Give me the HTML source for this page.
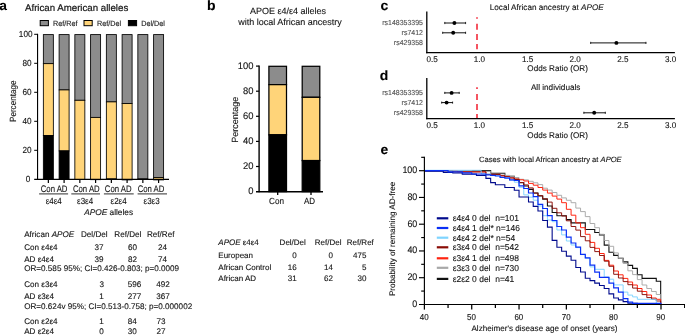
<!DOCTYPE html>
<html lang="en">
<head>
<meta charset="utf-8">
<title>APOE figure</title>
<style>
html, body { margin: 0; padding: 0; background: #ffffff; }
body { width: 685px; height: 335px; overflow: hidden; }
svg { display: block; font-family: "Liberation Sans", sans-serif; }
svg text { font-family: "Liberation Sans", sans-serif; stroke-width: 0.12px; paint-order: stroke fill; text-rendering: geometricPrecision; }
</style>
</head>
<body>
<svg width="685" height="335" viewBox="0 0 685 335" role="img" aria-label="APOE deletion allele figure, panels a to e">
<rect x="0" y="0" width="685" height="335" fill="#ffffff"/>
<g id="panel-a">
<text transform="translate(-0.8,10.3) scale(1.03,1)" font-size="13.4" font-weight="bold" fill="#000" stroke="#000" xml:space="preserve">a</text>
<text transform="translate(25,10.6)" font-size="9.68" style="stroke-width:0.2px" fill="#141414" stroke="#141414" xml:space="preserve">African American alleles</text>
<rect x="40.20" y="20.50" width="8.20" height="5.20" fill="#8c8c8c" stroke="#000" stroke-width="1.0"/>
<text transform="translate(53,26) scale(0.95,1)" font-size="7.6" style="stroke-width:0.14px" fill="#1c1c1c" stroke="#1c1c1c" xml:space="preserve">Ref/Ref</text>
<rect x="84.00" y="20.50" width="8.20" height="5.20" fill="#ffd479" stroke="#000" stroke-width="1.0"/>
<text transform="translate(97,26) scale(0.95,1)" font-size="7.6" style="stroke-width:0.14px" fill="#1c1c1c" stroke="#1c1c1c" xml:space="preserve">Ref/Del</text>
<rect x="128.40" y="20.50" width="8.20" height="5.20" fill="#000000" stroke="#000" stroke-width="1.0"/>
<text transform="translate(141.2,26) scale(0.95,1)" font-size="7.6" style="stroke-width:0.14px" fill="#1c1c1c" stroke="#1c1c1c" xml:space="preserve">Del/Del</text>
<rect x="43.35" y="34.60" width="10.00" height="29.06" fill="#8c8c8c" stroke="#000" stroke-width="0.85"/>
<rect x="43.35" y="63.66" width="10.00" height="71.90" fill="#ffd479" stroke="#000" stroke-width="0.85"/>
<rect x="43.35" y="135.56" width="10.00" height="43.74" fill="#000000" stroke="#000" stroke-width="0.85"/>
<rect x="59.10" y="34.60" width="10.00" height="55.33" fill="#8c8c8c" stroke="#000" stroke-width="0.85"/>
<rect x="59.10" y="89.93" width="10.00" height="60.97" fill="#ffd479" stroke="#000" stroke-width="0.85"/>
<rect x="59.10" y="150.90" width="10.00" height="28.40" fill="#000000" stroke="#000" stroke-width="0.85"/>
<rect x="74.85" y="34.60" width="10.00" height="65.69" fill="#8c8c8c" stroke="#000" stroke-width="0.85"/>
<rect x="74.85" y="100.29" width="10.00" height="79.21" fill="#ffd479" stroke="#000" stroke-width="0.85"/>
<rect x="74.85" y="179.50" width="10.00" height="-0.20" fill="#000000" stroke="#000" stroke-width="0.85"/>
<rect x="90.60" y="34.60" width="10.00" height="82.80" fill="#8c8c8c" stroke="#000" stroke-width="0.85"/>
<rect x="90.60" y="117.40" width="10.00" height="62.27" fill="#ffd479" stroke="#000" stroke-width="0.85"/>
<rect x="90.60" y="179.68" width="10.00" height="-0.38" fill="#000000" stroke="#000" stroke-width="0.85"/>
<rect x="106.35" y="34.60" width="10.00" height="67.29" fill="#8c8c8c" stroke="#000" stroke-width="0.85"/>
<rect x="106.35" y="101.89" width="10.00" height="77.09" fill="#ffd479" stroke="#000" stroke-width="0.85"/>
<rect x="106.35" y="178.98" width="10.00" height="0.32" fill="#000000" stroke="#000" stroke-width="0.85"/>
<rect x="122.10" y="34.60" width="10.00" height="68.98" fill="#8c8c8c" stroke="#000" stroke-width="0.85"/>
<rect x="122.10" y="103.58" width="10.00" height="76.32" fill="#ffd479" stroke="#000" stroke-width="0.85"/>
<rect x="137.85" y="34.60" width="10.00" height="144.43" fill="#8c8c8c" stroke="#000" stroke-width="0.85"/>
<rect x="137.85" y="179.03" width="10.00" height="0.44" fill="#ffd479" stroke="#000" stroke-width="0.85"/>
<rect x="137.85" y="179.47" width="10.00" height="-0.16" fill="#000000" stroke="#000" stroke-width="0.85"/>
<rect x="153.60" y="34.60" width="10.00" height="142.98" fill="#8c8c8c" stroke="#000" stroke-width="0.85"/>
<rect x="153.60" y="177.58" width="10.00" height="2.32" fill="#ffd479" stroke="#000" stroke-width="0.85"/>
<line x1="37.55" y1="33.80" x2="37.55" y2="179.85" stroke="#000" stroke-width="1.15"/>
<line x1="34.20" y1="179.30" x2="169.00" y2="179.30" stroke="#000" stroke-width="1.15"/>
<text transform="translate(30.3,182.4) scale(0.93,1)" font-size="8.8" text-anchor="end" fill="#141414" stroke="#141414" xml:space="preserve">0</text>
<line x1="34.20" y1="150.30" x2="37.55" y2="150.30" stroke="#000" stroke-width="1"/>
<text transform="translate(31.5,153.4) scale(0.93,1)" font-size="8.8" text-anchor="end" fill="#141414" stroke="#141414" xml:space="preserve">20</text>
<line x1="34.20" y1="121.30" x2="37.55" y2="121.30" stroke="#000" stroke-width="1"/>
<text transform="translate(31.5,124.4) scale(0.93,1)" font-size="8.8" text-anchor="end" fill="#141414" stroke="#141414" xml:space="preserve">40</text>
<line x1="34.20" y1="92.30" x2="37.55" y2="92.30" stroke="#000" stroke-width="1"/>
<text transform="translate(31.5,95.4) scale(0.93,1)" font-size="8.8" text-anchor="end" fill="#141414" stroke="#141414" xml:space="preserve">60</text>
<line x1="34.20" y1="63.30" x2="37.55" y2="63.30" stroke="#000" stroke-width="1"/>
<text transform="translate(31.5,66.4) scale(0.93,1)" font-size="8.8" text-anchor="end" fill="#141414" stroke="#141414" xml:space="preserve">80</text>
<line x1="34.20" y1="34.30" x2="37.55" y2="34.30" stroke="#000" stroke-width="1"/>
<text transform="translate(32.5,37.40000000000001) scale(0.93,1)" font-size="8.8" text-anchor="end" fill="#141414" stroke="#141414" xml:space="preserve">100</text>
<line x1="48.35" y1="179.30" x2="48.35" y2="182.90" stroke="#000" stroke-width="1.2"/>
<line x1="64.10" y1="179.30" x2="64.10" y2="182.90" stroke="#000" stroke-width="1.2"/>
<line x1="79.85" y1="179.30" x2="79.85" y2="182.90" stroke="#000" stroke-width="1.2"/>
<line x1="95.60" y1="179.30" x2="95.60" y2="182.90" stroke="#000" stroke-width="1.2"/>
<line x1="111.35" y1="179.30" x2="111.35" y2="182.90" stroke="#000" stroke-width="1.2"/>
<line x1="127.10" y1="179.30" x2="127.10" y2="182.90" stroke="#000" stroke-width="1.2"/>
<line x1="142.85" y1="179.30" x2="142.85" y2="182.90" stroke="#000" stroke-width="1.2"/>
<line x1="158.60" y1="179.30" x2="158.60" y2="182.90" stroke="#000" stroke-width="1.2"/>
<text transform="translate(54.1,191.9) scale(0.815,1)" font-size="9.5" text-anchor="middle" fill="#141414" stroke="#141414" xml:space="preserve">Con AD</text>
<line x1="39.10" y1="193.85" x2="68.10" y2="193.85" stroke="#747474" stroke-width="1.5"/>
<text transform="translate(53.7,203.5) scale(0.9,1)" font-size="8.9" text-anchor="middle" fill="#141414" stroke="#141414" xml:space="preserve">ε4ε4</text>
<text transform="translate(86.3,191.9) scale(0.815,1)" font-size="9.5" text-anchor="middle" fill="#141414" stroke="#141414" xml:space="preserve">Con AD</text>
<line x1="71.30" y1="193.85" x2="100.00" y2="193.85" stroke="#747474" stroke-width="1.5"/>
<text transform="translate(85.1,203.5) scale(0.9,1)" font-size="8.9" text-anchor="middle" fill="#141414" stroke="#141414" xml:space="preserve">ε3ε4</text>
<text transform="translate(118.2,191.9) scale(0.815,1)" font-size="9.5" text-anchor="middle" fill="#141414" stroke="#141414" xml:space="preserve">Con AD</text>
<line x1="103.90" y1="193.85" x2="133.70" y2="193.85" stroke="#747474" stroke-width="1.5"/>
<text transform="translate(118.6,203.5) scale(0.9,1)" font-size="8.9" text-anchor="middle" fill="#141414" stroke="#141414" xml:space="preserve">ε2ε4</text>
<text transform="translate(151.0,191.9) scale(0.815,1)" font-size="9.5" text-anchor="middle" fill="#141414" stroke="#141414" xml:space="preserve">Con AD</text>
<line x1="137.60" y1="193.85" x2="167.00" y2="193.85" stroke="#747474" stroke-width="1.5"/>
<text transform="translate(151.6,203.5) scale(0.9,1)" font-size="8.9" text-anchor="middle" fill="#141414" stroke="#141414" xml:space="preserve">ε3ε3</text>
<text transform="translate(84.2,215.2)" font-size="8.3" fill="#141414" stroke="#141414" xml:space="preserve"><tspan font-style="italic">APOE</tspan> alleles</text>
<text transform="translate(15.9,101.3) rotate(-90) scale(0.9,1)" font-size="9.0" text-anchor="middle" fill="#141414" stroke="#141414" xml:space="preserve">Percentage</text>
<text transform="translate(24.2,237.4)" font-size="8.12" fill="#141414" stroke="#141414" xml:space="preserve">African <tspan font-style="italic">APOE</tspan></text>
<text transform="translate(81,237.4)" font-size="8.12" fill="#141414" stroke="#141414" xml:space="preserve">Del/Del</text>
<text transform="translate(114.3,237.4)" font-size="8.12" fill="#141414" stroke="#141414" xml:space="preserve">Ref/Del</text>
<text transform="translate(147,237.4)" font-size="8.12" fill="#141414" stroke="#141414" xml:space="preserve">Ref/Ref</text>
<text transform="translate(24.2,250.3)" font-size="8.12" fill="#141414" stroke="#141414" xml:space="preserve">Con ε4ε4</text>
<text transform="translate(99.1,250.3)" font-size="8.12" text-anchor="middle" fill="#141414" stroke="#141414" xml:space="preserve">37</text>
<text transform="translate(132.6,250.3)" font-size="8.12" text-anchor="middle" fill="#141414" stroke="#141414" xml:space="preserve">60</text>
<text transform="translate(162.4,250.3)" font-size="8.12" text-anchor="middle" fill="#141414" stroke="#141414" xml:space="preserve">24</text>
<text transform="translate(24.2,261.7)" font-size="8.12" fill="#141414" stroke="#141414" xml:space="preserve">AD ε4ε4</text>
<text transform="translate(99.1,261.7)" font-size="8.12" text-anchor="middle" fill="#141414" stroke="#141414" xml:space="preserve">39</text>
<text transform="translate(132.6,261.7)" font-size="8.12" text-anchor="middle" fill="#141414" stroke="#141414" xml:space="preserve">82</text>
<text transform="translate(162.4,261.7)" font-size="8.12" text-anchor="middle" fill="#141414" stroke="#141414" xml:space="preserve">74</text>
<text transform="translate(24.2,287.2)" font-size="8.12" fill="#141414" stroke="#141414" xml:space="preserve">Con ε3ε4</text>
<text transform="translate(101.8,287.2)" font-size="8.12" text-anchor="middle" fill="#141414" stroke="#141414" xml:space="preserve">3</text>
<text transform="translate(134.6,287.2)" font-size="8.12" text-anchor="middle" fill="#141414" stroke="#141414" xml:space="preserve">596</text>
<text transform="translate(163.0,287.2)" font-size="8.12" text-anchor="middle" fill="#141414" stroke="#141414" xml:space="preserve">492</text>
<text transform="translate(24.2,298.5)" font-size="8.12" fill="#141414" stroke="#141414" xml:space="preserve">AD ε3ε4</text>
<text transform="translate(101.6,298.5)" font-size="8.12" text-anchor="middle" fill="#141414" stroke="#141414" xml:space="preserve">1</text>
<text transform="translate(134.6,298.5)" font-size="8.12" text-anchor="middle" fill="#141414" stroke="#141414" xml:space="preserve">277</text>
<text transform="translate(163.0,298.5)" font-size="8.12" text-anchor="middle" fill="#141414" stroke="#141414" xml:space="preserve">367</text>
<text transform="translate(24.2,323.8)" font-size="8.12" fill="#141414" stroke="#141414" xml:space="preserve">Con ε2ε4</text>
<text transform="translate(101.6,323.8)" font-size="8.12" text-anchor="middle" fill="#141414" stroke="#141414" xml:space="preserve">1</text>
<text transform="translate(132.3,323.8)" font-size="8.12" text-anchor="middle" fill="#141414" stroke="#141414" xml:space="preserve">84</text>
<text transform="translate(161.0,323.8)" font-size="8.12" text-anchor="middle" fill="#141414" stroke="#141414" xml:space="preserve">73</text>
<text transform="translate(24.2,334.2)" font-size="8.12" fill="#141414" stroke="#141414" xml:space="preserve">AD ε2ε4</text>
<text transform="translate(101.6,334.2)" font-size="8.12" text-anchor="middle" fill="#141414" stroke="#141414" xml:space="preserve">0</text>
<text transform="translate(132.3,334.2)" font-size="8.12" text-anchor="middle" fill="#141414" stroke="#141414" xml:space="preserve">30</text>
<text transform="translate(161.0,334.2)" font-size="8.12" text-anchor="middle" fill="#141414" stroke="#141414" xml:space="preserve">27</text>
<text transform="translate(24.2,271.1)" font-size="8.12" fill="#141414" stroke="#141414" xml:space="preserve">OR=0.585 95%; CI=0.426-0.803; p=0.0009</text>
<text transform="translate(24.2,309.1)" font-size="8.12" fill="#141414" stroke="#141414" xml:space="preserve">OR=0.624v 95%; CI=0.513-0.758; p=0.000002</text>
</g>
<g id="panel-b">
<text transform="translate(207.1,10.2) scale(1.03,1)" font-size="13.6" font-weight="bold" fill="#000" stroke="#000" xml:space="preserve">b</text>
<text transform="translate(288,13.8)" font-size="9" text-anchor="middle" fill="#141414" stroke="#141414" xml:space="preserve">APOE ε4/ε4 alleles</text>
<text transform="translate(290,24.7)" font-size="9" text-anchor="middle" fill="#141414" stroke="#141414" xml:space="preserve">with local African ancestry</text>
<rect x="268.90" y="66.30" width="17.60" height="18.33" fill="#8c8c8c" stroke="#000" stroke-width="1.25"/>
<rect x="268.90" y="84.63" width="17.60" height="50.20" fill="#ffd479" stroke="#000" stroke-width="1.25"/>
<rect x="268.90" y="134.83" width="17.60" height="56.77" fill="#000000" stroke="#000" stroke-width="1.25"/>
<rect x="302.20" y="66.30" width="17.60" height="31.01" fill="#8c8c8c" stroke="#000" stroke-width="1.25"/>
<rect x="302.20" y="97.31" width="17.60" height="63.26" fill="#ffd479" stroke="#000" stroke-width="1.25"/>
<rect x="302.20" y="160.57" width="17.60" height="31.03" fill="#000000" stroke="#000" stroke-width="1.25"/>
<line x1="259.10" y1="65.50" x2="259.10" y2="192.30" stroke="#000" stroke-width="1.4"/>
<line x1="256.00" y1="191.80" x2="323.00" y2="191.80" stroke="#000" stroke-width="1.5"/>
<text transform="translate(253.5,194.1) scale(0.98,1)" font-size="9.6" text-anchor="end" fill="#141414" stroke="#141414" xml:space="preserve">0</text>
<line x1="256.00" y1="166.50" x2="259.10" y2="166.50" stroke="#000" stroke-width="1.2"/>
<text transform="translate(253.5,169.0) scale(0.98,1)" font-size="9.6" text-anchor="end" fill="#141414" stroke="#141414" xml:space="preserve">20</text>
<line x1="256.00" y1="141.40" x2="259.10" y2="141.40" stroke="#000" stroke-width="1.2"/>
<text transform="translate(253.5,143.89999999999998) scale(0.98,1)" font-size="9.6" text-anchor="end" fill="#141414" stroke="#141414" xml:space="preserve">40</text>
<line x1="256.00" y1="116.30" x2="259.10" y2="116.30" stroke="#000" stroke-width="1.2"/>
<text transform="translate(253.5,118.8) scale(0.98,1)" font-size="9.6" text-anchor="end" fill="#141414" stroke="#141414" xml:space="preserve">60</text>
<line x1="256.00" y1="91.20" x2="259.10" y2="91.20" stroke="#000" stroke-width="1.2"/>
<text transform="translate(253.5,93.69999999999999) scale(0.98,1)" font-size="9.6" text-anchor="end" fill="#141414" stroke="#141414" xml:space="preserve">80</text>
<line x1="256.00" y1="66.10" x2="259.10" y2="66.10" stroke="#000" stroke-width="1.2"/>
<text transform="translate(253.5,68.6) scale(0.98,1)" font-size="9.6" text-anchor="end" fill="#141414" stroke="#141414" xml:space="preserve">100</text>
<line x1="277.70" y1="191.60" x2="277.70" y2="194.90" stroke="#000" stroke-width="1.3"/>
<line x1="311.00" y1="191.60" x2="311.00" y2="194.90" stroke="#000" stroke-width="1.3"/>
<text transform="translate(276.6,203.9) scale(0.92,1)" font-size="8.9" text-anchor="middle" fill="#141414" stroke="#141414" xml:space="preserve">Con</text>
<text transform="translate(309.5,203.9) scale(0.9,1)" font-size="8.9" text-anchor="middle" fill="#141414" stroke="#141414" xml:space="preserve">AD</text>
<text transform="translate(238.4,119.8) rotate(-90)" font-size="9.0" text-anchor="middle" fill="#141414" stroke="#141414" xml:space="preserve">Percentage</text>
<text transform="translate(218.3,245.0)" font-size="8.0" fill="#141414" stroke="#141414" xml:space="preserve"><tspan font-style="italic">APOE</tspan> ε4ε4</text>
<text transform="translate(279.6,245.0)" font-size="8.0" fill="#141414" stroke="#141414" xml:space="preserve">Del/Del</text>
<text transform="translate(314.8,245.0)" font-size="8.0" fill="#141414" stroke="#141414" xml:space="preserve">Ref/Del</text>
<text transform="translate(346.7,245.0)" font-size="8.0" fill="#141414" stroke="#141414" xml:space="preserve">Ref/Ref</text>
<text transform="translate(218.3,257.9)" font-size="8.0" fill="#141414" stroke="#141414" xml:space="preserve">European</text>
<text transform="translate(296.7,257.9)" font-size="8.0" text-anchor="end" fill="#141414" stroke="#141414" xml:space="preserve">0</text>
<text transform="translate(333.0,257.9)" font-size="8.0" text-anchor="end" fill="#141414" stroke="#141414" xml:space="preserve">0</text>
<text transform="translate(366.4,257.9)" font-size="8.0" text-anchor="end" fill="#141414" stroke="#141414" xml:space="preserve">475</text>
<text transform="translate(218.3,270.1)" font-size="8.0" fill="#141414" stroke="#141414" xml:space="preserve">African Control</text>
<text transform="translate(296.7,270.1)" font-size="8.0" text-anchor="end" fill="#141414" stroke="#141414" xml:space="preserve">16</text>
<text transform="translate(333.0,270.1)" font-size="8.0" text-anchor="end" fill="#141414" stroke="#141414" xml:space="preserve">14</text>
<text transform="translate(366.4,270.1)" font-size="8.0" text-anchor="end" fill="#141414" stroke="#141414" xml:space="preserve">5</text>
<text transform="translate(218.3,280.8)" font-size="8.0" fill="#141414" stroke="#141414" xml:space="preserve">African AD</text>
<text transform="translate(296.7,280.8)" font-size="8.0" text-anchor="end" fill="#141414" stroke="#141414" xml:space="preserve">31</text>
<text transform="translate(333.0,280.8)" font-size="8.0" text-anchor="end" fill="#141414" stroke="#141414" xml:space="preserve">62</text>
<text transform="translate(366.4,280.8)" font-size="8.0" text-anchor="end" fill="#141414" stroke="#141414" xml:space="preserve">30</text>
</g>
<g id="panel-c">
<text transform="translate(380.4,10.3) scale(1.04,1)" font-size="13.4" font-weight="bold" fill="#000" stroke="#000" xml:space="preserve">c</text>
<line x1="477.00" y1="17.20" x2="477.00" y2="18.70" stroke="#f21b2d" stroke-width="1.5"/>
<line x1="477.00" y1="23.70" x2="477.00" y2="29.70" stroke="#f21b2d" stroke-width="1.5"/>
<line x1="477.00" y1="33.90" x2="477.00" y2="39.90" stroke="#f21b2d" stroke-width="1.5"/>
<line x1="477.00" y1="44.00" x2="477.00" y2="49.20" stroke="#f21b2d" stroke-width="1.5"/>
<text transform="translate(422.9,25.2) scale(0.955,1)" font-size="7.3" text-anchor="end" style="stroke-width:0.1px" fill="#505050" stroke="#505050" xml:space="preserve">rs148353395</text>
<line x1="444.40" y1="23.00" x2="466.00" y2="23.00" stroke="#111" stroke-width="1.0"/>
<line x1="444.80" y1="21.90" x2="444.80" y2="24.10" stroke="#111" stroke-width="0.8"/>
<line x1="465.60" y1="21.90" x2="465.60" y2="24.10" stroke="#111" stroke-width="0.8"/>
<circle cx="454.4" cy="23.0" r="1.95" fill="#000"/>
<text transform="translate(422.9,35.0) scale(0.955,1)" font-size="7.3" text-anchor="end" style="stroke-width:0.1px" fill="#505050" stroke="#505050" xml:space="preserve">rs7412</text>
<line x1="442.30" y1="32.80" x2="466.00" y2="32.80" stroke="#111" stroke-width="1.0"/>
<line x1="442.70" y1="31.70" x2="442.70" y2="33.90" stroke="#111" stroke-width="0.8"/>
<line x1="465.60" y1="31.70" x2="465.60" y2="33.90" stroke="#111" stroke-width="0.8"/>
<circle cx="453.2" cy="32.8" r="1.95" fill="#000"/>
<text transform="translate(422.9,45.1) scale(0.955,1)" font-size="7.3" text-anchor="end" style="stroke-width:0.1px" fill="#505050" stroke="#505050" xml:space="preserve">rs429358</text>
<line x1="590.30" y1="42.90" x2="646.30" y2="42.90" stroke="#111" stroke-width="1.0"/>
<line x1="590.70" y1="41.80" x2="590.70" y2="44.00" stroke="#111" stroke-width="0.8"/>
<line x1="645.90" y1="41.80" x2="645.90" y2="44.00" stroke="#111" stroke-width="0.8"/>
<circle cx="616.4" cy="42.9" r="1.95" fill="#000"/>
<line x1="426.80" y1="11.60" x2="426.80" y2="53.35" stroke="#000" stroke-width="1.3"/>
<line x1="426.15" y1="52.70" x2="674.90" y2="52.70" stroke="#000" stroke-width="1.3"/>
<text transform="translate(432.0,61.699999999999996) scale(0.975,1)" font-size="8.3" text-anchor="middle" fill="#141414" stroke="#141414" xml:space="preserve">0.5</text>
<text transform="translate(479.4,61.699999999999996) scale(0.975,1)" font-size="8.3" text-anchor="middle" fill="#141414" stroke="#141414" xml:space="preserve">1.0</text>
<text transform="translate(527.5,61.699999999999996) scale(0.975,1)" font-size="8.3" text-anchor="middle" fill="#141414" stroke="#141414" xml:space="preserve">1.5</text>
<text transform="translate(575.2,61.699999999999996) scale(0.975,1)" font-size="8.3" text-anchor="middle" fill="#141414" stroke="#141414" xml:space="preserve">2.0</text>
<text transform="translate(622.8,61.699999999999996) scale(0.975,1)" font-size="8.3" text-anchor="middle" fill="#141414" stroke="#141414" xml:space="preserve">2.5</text>
<text transform="translate(670.6,61.699999999999996) scale(0.975,1)" font-size="8.3" text-anchor="middle" fill="#141414" stroke="#141414" xml:space="preserve">3.0</text>
<text transform="translate(557.6,70.8)" font-size="8.15" text-anchor="middle" fill="#141414" stroke="#141414" xml:space="preserve">Odds Ratio (OR)</text>
<text transform="translate(489.7,10.4)" font-size="8.18" fill="#141414" stroke="#141414" xml:space="preserve">Local African ancestry at <tspan font-style="italic">APOE</tspan></text>
</g>
<g id="panel-d">
<text transform="translate(379.79999999999995,80.4) scale(1.04,1)" font-size="13.4" font-weight="bold" fill="#000" stroke="#000" xml:space="preserve">d</text>
<line x1="477.00" y1="87.30" x2="477.00" y2="88.90" stroke="#f21b2d" stroke-width="1.5"/>
<line x1="477.00" y1="93.90" x2="477.00" y2="99.90" stroke="#f21b2d" stroke-width="1.5"/>
<line x1="477.00" y1="104.00" x2="477.00" y2="110.00" stroke="#f21b2d" stroke-width="1.5"/>
<line x1="477.00" y1="114.00" x2="477.00" y2="118.00" stroke="#f21b2d" stroke-width="1.5"/>
<text transform="translate(422.9,95.10000000000001) scale(0.955,1)" font-size="7.3" text-anchor="end" style="stroke-width:0.1px" fill="#505050" stroke="#505050" xml:space="preserve">rs148353395</text>
<line x1="444.40" y1="92.90" x2="459.60" y2="92.90" stroke="#111" stroke-width="1.0"/>
<line x1="444.80" y1="91.80" x2="444.80" y2="94.00" stroke="#111" stroke-width="0.8"/>
<line x1="459.20" y1="91.80" x2="459.20" y2="94.00" stroke="#111" stroke-width="0.8"/>
<circle cx="451.6" cy="92.9" r="1.95" fill="#000"/>
<text transform="translate(422.9,104.8) scale(0.955,1)" font-size="7.3" text-anchor="end" style="stroke-width:0.1px" fill="#505050" stroke="#505050" xml:space="preserve">rs7412</text>
<line x1="441.30" y1="102.60" x2="453.00" y2="102.60" stroke="#111" stroke-width="1.0"/>
<line x1="441.70" y1="101.50" x2="441.70" y2="103.70" stroke="#111" stroke-width="0.8"/>
<line x1="452.60" y1="101.50" x2="452.60" y2="103.70" stroke="#111" stroke-width="0.8"/>
<circle cx="446.6" cy="102.6" r="1.95" fill="#000"/>
<text transform="translate(422.9,115.0) scale(0.955,1)" font-size="7.3" text-anchor="end" style="stroke-width:0.1px" fill="#505050" stroke="#505050" xml:space="preserve">rs429358</text>
<line x1="583.50" y1="112.80" x2="605.70" y2="112.80" stroke="#111" stroke-width="1.0"/>
<line x1="583.90" y1="111.70" x2="583.90" y2="113.90" stroke="#111" stroke-width="0.8"/>
<line x1="605.30" y1="111.70" x2="605.30" y2="113.90" stroke="#111" stroke-width="0.8"/>
<circle cx="594.2" cy="112.8" r="1.95" fill="#000"/>
<line x1="426.80" y1="78.00" x2="426.80" y2="119.25" stroke="#000" stroke-width="1.3"/>
<line x1="426.15" y1="118.60" x2="674.90" y2="118.60" stroke="#000" stroke-width="1.3"/>
<text transform="translate(432.0,128.2) scale(0.975,1)" font-size="8.3" text-anchor="middle" fill="#141414" stroke="#141414" xml:space="preserve">0.5</text>
<text transform="translate(479.4,128.2) scale(0.975,1)" font-size="8.3" text-anchor="middle" fill="#141414" stroke="#141414" xml:space="preserve">1.0</text>
<text transform="translate(527.5,128.2) scale(0.975,1)" font-size="8.3" text-anchor="middle" fill="#141414" stroke="#141414" xml:space="preserve">1.5</text>
<text transform="translate(575.2,128.2) scale(0.975,1)" font-size="8.3" text-anchor="middle" fill="#141414" stroke="#141414" xml:space="preserve">2.0</text>
<text transform="translate(622.8,128.2) scale(0.975,1)" font-size="8.3" text-anchor="middle" fill="#141414" stroke="#141414" xml:space="preserve">2.5</text>
<text transform="translate(670.6,128.2) scale(0.975,1)" font-size="8.3" text-anchor="middle" fill="#141414" stroke="#141414" xml:space="preserve">3.0</text>
<text transform="translate(557.6,138.1)" font-size="8.15" text-anchor="middle" fill="#141414" stroke="#141414" xml:space="preserve">Odds Ratio (OR)</text>
<text transform="translate(530.9,89.6)" font-size="8.18" fill="#141414" stroke="#141414" xml:space="preserve">All individuals</text>
</g>
<g id="panel-e">
<text transform="translate(380.4,153.6) scale(1.04,1)" font-size="13.4" font-weight="bold" fill="#000" stroke="#000" xml:space="preserve">e</text>
<text transform="translate(479,161.7)" font-size="7.6" fill="#141414" stroke="#141414" xml:space="preserve">Cases with local African ancestry at <tspan font-style="italic">APOE</tspan></text>
<path d="M424.40 170.60 H490.65 V173.40 H504.84 V176.30 H514.31 V179.50 H519.04 V182.80 H523.77 V186.00 H528.50 V189.40 H533.24 V193.00 H537.97 V196.00 H542.70 V199.10 H547.43 V206.00 H552.16 V212.50 H556.90 V215.80 H566.36 V219.60 H571.09 V222.90 H585.29 V229.50 H594.75 V232.50 H599.48 V234.90 H604.22 V245.10 H608.95 V252.20 H613.68 V255.40 H618.41 V258.30 H623.14 V261.90 H627.88 V265.40 H632.61 V268.40 H637.34 V274.80 H642.07 V278.40 H656.27 V281.30 H660.67 V304.00" fill="none" stroke="#101010" stroke-width="1.1" stroke-linejoin="miter"/>
<path d="M424.40 170.60 H471.72 V171.30 H490.65 V174.00 H504.84 V175.40 H509.58 V176.30 H514.31 V177.50 H519.04 V179.30 H523.77 V179.90 H528.50 V181.30 H533.24 V182.80 H537.97 V184.60 H542.70 V188.20 H547.43 V190.10 H552.16 V192.50 H556.90 V195.30 H561.63 V197.90 H566.36 V200.30 H571.09 V202.70 H575.82 V208.10 H580.56 V211.60 H585.29 V216.60 H590.02 V223.50 H594.75 V227.70 H599.48 V234.30 H604.22 V240.50 H608.95 V246.30 H613.68 V252.90 H618.41 V258.30 H623.14 V263.50 H627.88 V270.80 H632.61 V274.60 H637.34 V279.60 H642.07 V285.00 H646.80 V288.50 H651.54 V291.50 H656.27 V294.50 H660.67 V304.00" fill="none" stroke="#a8a8a8" stroke-width="0.95" stroke-linejoin="miter"/>
<path d="M424.40 170.60 H457.52 V171.80 H485.92 V174.30 H500.11 V175.70 H504.84 V176.60 H509.58 V177.80 H514.31 V179.00 H519.04 V179.80 H523.77 V181.00 H528.50 V183.40 H533.24 V185.20 H537.97 V187.50 H542.70 V190.10 H547.43 V193.10 H552.16 V196.10 H556.90 V199.10 H561.63 V202.70 H566.36 V209.30 H571.09 V215.20 H575.82 V222.90 H580.56 V227.70 H585.29 V234.30 H590.02 V242.40 H594.75 V248.30 H599.48 V253.50 H604.22 V260.40 H608.95 V265.20 H613.68 V271.00 H618.41 V274.80 H623.14 V278.40 H627.88 V282.00 H632.61 V285.00 H637.34 V288.50 H642.07 V291.50 H646.80 V295.00 H651.54 V298.00 H656.27 V299.30 H660.67 V304.00" fill="none" stroke="#ff2410" stroke-width="1.0" stroke-linejoin="miter"/>
<path d="M424.40 170.60 H452.79 V171.90 H485.92 V174.50 H500.11 V175.80 H504.84 V176.80 H509.58 V178.00 H514.31 V179.20 H519.04 V182.50 H523.77 V184.90 H528.50 V187.90 H533.24 V193.10 H537.97 V195.60 H542.70 V198.80 H547.43 V202.10 H552.16 V208.30 H556.90 V212.80 H561.63 V216.00 H566.36 V220.80 H571.09 V226.50 H575.82 V230.10 H580.56 V236.60 H585.29 V240.80 H590.02 V247.40 H594.75 V251.60 H599.48 V255.50 H604.22 V261.20 H608.95 V266.30 H613.68 V274.30 H618.41 V278.00 H623.14 V281.60 H627.88 V284.70 H632.61 V288.10 H637.34 V291.20 H642.07 V294.60 H646.80 V297.60 H651.54 V299.20 H656.27 V301.00 H660.67 V304.00" fill="none" stroke="#8a0c05" stroke-width="0.95" stroke-linejoin="miter"/>
<path d="M424.40 170.30 H481.18 V174.00 H490.65 V175.60 H500.11 V177.50 H509.58 V180.20 H514.31 V182.20 H519.04 V187.30 H523.77 V194.90 H528.50 V197.20 H533.24 V200.20 H537.97 V206.00 H542.70 V215.70 H547.43 V220.00 H552.16 V221.70 H556.90 V230.00 H561.63 V234.90 H566.36 V241.00 H571.09 V245.00 H575.82 V247.60 H580.56 V254.60 H585.29 V258.20 H590.02 V266.90 H594.75 V269.30 H604.22 V277.00 H608.95 V279.20 H613.68 V284.90 H623.14 V292.10 H627.88 V295.10 H632.61 V296.90 H637.34 V299.30 H656.27 V303.40 H661.00 V304.00" fill="none" stroke="#7fd4ff" stroke-width="0.95" stroke-linejoin="miter"/>
<path d="M424.40 171.30 H443.33 V172.40 H452.79 V173.00 H462.26 V174.10 H476.45 V175.40 H485.92 V178.40 H490.65 V182.60 H495.38 V184.70 H504.84 V187.50 H514.31 V190.20 H519.04 V197.00 H528.50 V202.00 H533.24 V206.40 H537.97 V211.00 H542.70 V220.50 H547.43 V227.10 H552.16 V240.40 H556.90 V247.20 H561.63 V251.30 H566.36 V256.10 H571.09 V260.30 H575.82 V267.50 H580.56 V272.00 H585.29 V278.20 H590.02 V280.60 H594.75 V283.10 H599.48 V285.50 H604.22 V288.50 H608.95 V293.90 H613.68 V298.00 H618.41 V299.90 H623.14 V301.60 H627.88 V303.20 H637.34 V304.00" fill="none" stroke="#000a8c" stroke-width="1.1" stroke-linejoin="miter"/>
<path d="M424.40 170.70 H448.06 V171.80 H462.26 V172.80 H471.72 V174.00 H485.92 V174.80 H490.65 V175.40 H495.38 V176.00 H500.11 V177.40 H504.84 V178.10 H509.58 V179.90 H514.31 V180.50 H519.04 V185.80 H523.77 V188.50 H528.50 V193.00 H533.24 V196.60 H537.97 V204.40 H542.70 V208.50 H547.43 V215.70 H552.16 V220.50 H556.90 V226.50 H561.63 V230.00 H566.36 V237.20 H571.09 V243.00 H575.82 V247.20 H580.56 V254.30 H585.29 V257.90 H590.02 V265.10 H594.75 V272.20 H599.48 V277.30 H608.95 V283.10 H613.68 V287.90 H618.41 V292.10 H623.14 V298.70 H627.88 V302.20 H632.61 V303.30 H661.00 V304.00" fill="none" stroke="#0a30f5" stroke-width="1.2" stroke-linejoin="miter"/>
<line x1="424.40" y1="156.82" x2="424.40" y2="305.00" stroke="#000" stroke-width="1.15"/>
<line x1="419.00" y1="304.45" x2="685.00" y2="304.45" stroke="#000" stroke-width="1.1"/>
<text transform="translate(417.3,306.75) scale(0.93,1)" font-size="9.6" text-anchor="end" fill="#141414" stroke="#141414" xml:space="preserve">0</text>
<line x1="421.20" y1="291.07" x2="424.40" y2="291.07" stroke="#000" stroke-width="1.15"/>
<line x1="419.00" y1="277.70" x2="424.40" y2="277.70" stroke="#000" stroke-width="1.15"/>
<text transform="translate(417.3,280.0) scale(0.93,1)" font-size="9.6" text-anchor="end" fill="#141414" stroke="#141414" xml:space="preserve">20</text>
<line x1="421.20" y1="264.32" x2="424.40" y2="264.32" stroke="#000" stroke-width="1.15"/>
<line x1="419.00" y1="250.95" x2="424.40" y2="250.95" stroke="#000" stroke-width="1.15"/>
<text transform="translate(417.3,253.25) scale(0.93,1)" font-size="9.6" text-anchor="end" fill="#141414" stroke="#141414" xml:space="preserve">40</text>
<line x1="421.20" y1="237.57" x2="424.40" y2="237.57" stroke="#000" stroke-width="1.15"/>
<line x1="419.00" y1="224.20" x2="424.40" y2="224.20" stroke="#000" stroke-width="1.15"/>
<text transform="translate(417.3,226.5) scale(0.93,1)" font-size="9.6" text-anchor="end" fill="#141414" stroke="#141414" xml:space="preserve">60</text>
<line x1="421.20" y1="210.82" x2="424.40" y2="210.82" stroke="#000" stroke-width="1.15"/>
<line x1="419.00" y1="197.45" x2="424.40" y2="197.45" stroke="#000" stroke-width="1.15"/>
<text transform="translate(417.3,199.75) scale(0.93,1)" font-size="9.6" text-anchor="end" fill="#141414" stroke="#141414" xml:space="preserve">80</text>
<line x1="421.20" y1="184.07" x2="424.40" y2="184.07" stroke="#000" stroke-width="1.15"/>
<line x1="419.00" y1="170.70" x2="424.40" y2="170.70" stroke="#000" stroke-width="1.15"/>
<text transform="translate(417.3,173.0) scale(0.93,1)" font-size="9.6" text-anchor="end" fill="#141414" stroke="#141414" xml:space="preserve">100</text>
<line x1="421.20" y1="157.32" x2="424.40" y2="157.32" stroke="#000" stroke-width="1.15"/>
<line x1="424.40" y1="304.45" x2="424.40" y2="309.60" stroke="#000" stroke-width="1.25"/>
<text transform="translate(424.2,319.6) scale(0.93,1)" font-size="8.6" text-anchor="middle" fill="#141414" stroke="#141414" xml:space="preserve">40</text>
<line x1="448.06" y1="304.45" x2="448.06" y2="308.00" stroke="#000" stroke-width="1.25"/>
<line x1="471.72" y1="304.45" x2="471.72" y2="309.60" stroke="#000" stroke-width="1.25"/>
<text transform="translate(471.52,319.6) scale(0.93,1)" font-size="8.6" text-anchor="middle" fill="#141414" stroke="#141414" xml:space="preserve">50</text>
<line x1="495.38" y1="304.45" x2="495.38" y2="308.00" stroke="#000" stroke-width="1.25"/>
<line x1="519.04" y1="304.45" x2="519.04" y2="309.60" stroke="#000" stroke-width="1.25"/>
<text transform="translate(518.8399999999999,319.6) scale(0.93,1)" font-size="8.6" text-anchor="middle" fill="#141414" stroke="#141414" xml:space="preserve">60</text>
<line x1="542.70" y1="304.45" x2="542.70" y2="308.00" stroke="#000" stroke-width="1.25"/>
<line x1="566.36" y1="304.45" x2="566.36" y2="309.60" stroke="#000" stroke-width="1.25"/>
<text transform="translate(566.16,319.6) scale(0.93,1)" font-size="8.6" text-anchor="middle" fill="#141414" stroke="#141414" xml:space="preserve">70</text>
<line x1="590.02" y1="304.45" x2="590.02" y2="308.00" stroke="#000" stroke-width="1.25"/>
<line x1="613.68" y1="304.45" x2="613.68" y2="309.60" stroke="#000" stroke-width="1.25"/>
<text transform="translate(613.4799999999999,319.6) scale(0.93,1)" font-size="8.6" text-anchor="middle" fill="#141414" stroke="#141414" xml:space="preserve">80</text>
<line x1="637.34" y1="304.45" x2="637.34" y2="308.00" stroke="#000" stroke-width="1.25"/>
<line x1="661.00" y1="304.45" x2="661.00" y2="309.60" stroke="#000" stroke-width="1.25"/>
<text transform="translate(660.8,319.6) scale(0.93,1)" font-size="8.6" text-anchor="middle" fill="#141414" stroke="#141414" xml:space="preserve">90</text>
<line x1="684.66" y1="304.45" x2="684.66" y2="308.00" stroke="#000" stroke-width="1.25"/>
<text transform="translate(544.4,331.2)" font-size="8.1" text-anchor="middle" fill="#141414" stroke="#141414" xml:space="preserve">Alzheimer's disease age of onset (years)</text>
<text transform="translate(394.7,238.9) rotate(-90)" font-size="8.1" text-anchor="middle" fill="#141414" stroke="#141414" xml:space="preserve">Probability of remaining AD-free</text>
<line x1="436.80" y1="218.30" x2="448.30" y2="218.30" stroke="#000a8c" stroke-width="2.2"/>
<text transform="translate(452.8,221.3) scale(0.985,1)" font-size="8.6" fill="#141414" stroke="#141414" xml:space="preserve">ε4ε4 0 del  n=101</text>
<line x1="436.80" y1="228.00" x2="448.30" y2="228.00" stroke="#0a30f5" stroke-width="2.2"/>
<text transform="translate(452.8,231.0) scale(0.985,1)" font-size="8.6" fill="#141414" stroke="#141414" xml:space="preserve">ε4ε4 1 del* n=146</text>
<line x1="436.80" y1="237.70" x2="448.30" y2="237.70" stroke="#7fd4ff" stroke-width="2.2"/>
<text transform="translate(452.8,240.7) scale(0.985,1)" font-size="8.6" fill="#141414" stroke="#141414" xml:space="preserve">ε4ε4 2 del* n=54</text>
<line x1="436.80" y1="247.30" x2="448.30" y2="247.30" stroke="#8a0c05" stroke-width="2.2"/>
<text transform="translate(452.8,250.3) scale(0.985,1)" font-size="8.6" fill="#141414" stroke="#141414" xml:space="preserve">ε3ε4 0 del  n=542</text>
<line x1="436.80" y1="258.30" x2="448.30" y2="258.30" stroke="#ff2410" stroke-width="2.2"/>
<text transform="translate(452.8,261.3) scale(0.985,1)" font-size="8.6" fill="#141414" stroke="#141414" xml:space="preserve">ε3ε4 1 del  n=498</text>
<line x1="436.80" y1="267.80" x2="448.30" y2="267.80" stroke="#a8a8a8" stroke-width="2.2"/>
<text transform="translate(452.8,270.8) scale(0.985,1)" font-size="8.6" fill="#141414" stroke="#141414" xml:space="preserve">ε3ε3 0 del  n=730</text>
<line x1="436.80" y1="278.90" x2="448.30" y2="278.90" stroke="#101010" stroke-width="2.2"/>
<text transform="translate(452.8,281.9) scale(0.985,1)" font-size="8.6" fill="#141414" stroke="#141414" xml:space="preserve">ε2ε2 0 del  n=41</text>
</g>
</svg>
</body>
</html>
